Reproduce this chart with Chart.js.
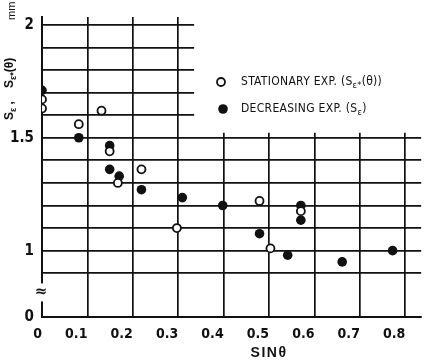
<!DOCTYPE html>
<html>
<head>
<meta charset="utf-8">
<script src="https://cdn.jsdelivr.net/npm/chart.js@4"></script>
<style>
  html, body { margin: 0; padding: 0; background: #fff; }
  #wrap { width: 427px; height: 364px; }
</style>
</head>
<body>
<div id="wrap"><canvas id="c" width="427" height="364"></canvas></div>
<script>
// Stationary experiments: S_e*(theta) against sin(theta)
const stationarySin = [0, 0, 0.081, 0.131, 0.149, 0.167, 0.219, 0.297, 0.479, 0.503, 0.570];
const stationarySe  = [1.67, 1.63, 1.56, 1.62, 1.44, 1.30, 1.36, 1.10, 1.22, 1.01, 1.175];

// Decreasing experiments: S_e against sin(theta)
const decreasingSin = [0, 0.081, 0.149, 0.149, 0.170, 0.219, 0.309, 0.398, 0.479, 0.541, 0.570, 0.570, 0.661, 0.772];
const decreasingSe  = [1.71, 1.50, 1.465, 1.36, 1.33, 1.27, 1.235, 1.20, 1.075, 0.98, 1.20, 1.135, 0.95, 1.00];

// Axis ticks
const xTickValues = [0, 0.1, 0.2, 0.3, 0.4, 0.5, 0.6, 0.7, 0.8];
const xTickLabels = ['0', '0.1', '0.2', '0.3', '0.4', '0.5', '0.6', '0.7', '0.8'];
const yTickValues = [0.9, 1.0, 1.1, 1.2, 1.3, 1.4, 1.5, 1.6, 1.7, 1.8, 1.9, 2.0];
const yTickLabels = [[1, '1'], [1.5, '1.5'], [2, '2']];

// The y axis is broken: its foot stands for 0
const yBreakFloor = 0.706;
const yBreakAt = 0.815;
const yFloorLabel = '0';

const seriesLabels = ['STATIONARY EXP. (S_{ε*}(θ))', 'DECREASING EXP. (S_{ε})'];
const yTitleParts = ['S_{ε} ,', 'S_{ε*}(θ)', 'mm'];
const xTitle = 'SINθ';

const INK = '#111';
const NARROW = "'Liberation Sans Narrow', 'DejaVu Sans Condensed', sans-serif";

function toPoints(xs, ys) { return xs.map((x, i) => ({ x: x, y: ys[i] })); }

// Draws text where _{...} marks a subscript run; returns the width drawn
function drawRich(ctx, text, x, y, size, weight, family) {
  const parts = text.split(/(_\{[^}]*\})/);
  let cx = x;
  for (const p of parts) {
    if (!p) continue;
    const sub = p.startsWith('_{');
    const t = sub ? p.slice(2, -1) : p;
    const s = sub ? Math.round(size * 0.72) : size;
    ctx.font = `${weight} ${s}px ${family}`;
    ctx.fillText(t, cx, y + (sub ? size * 0.28 : 0));
    cx += ctx.measureText(t).width;
  }
  return cx - x;
}

// Clears the empty upper-right panel and opens the gap in the broken y axis
const panelMask = {
  id: 'panelMask',
  beforeDatasetsDraw(chart) {
    const { ctx, chartArea, scales } = chart;
    const x0 = scales.x.getPixelForValue(0.335);
    const y15 = scales.y.getPixelForValue(1.5);
    ctx.save();
    ctx.fillStyle = '#fff';
    ctx.fillRect(x0, 0, chart.width - x0, y15 - 5);
    const yb = scales.y.getPixelForValue(yBreakAt);
    ctx.fillRect(chartArea.left - 4, yb - 9, 8, 18);
    ctx.restore();
  }
};

// Break symbol, axis titles and the in-panel key
const annotations = {
  id: 'annotations',
  afterDatasetsDraw(chart) {
    const { ctx, chartArea, scales } = chart;
    ctx.save();
    ctx.fillStyle = INK;
    ctx.textBaseline = 'middle';

    // break mark on the y axis
    ctx.textAlign = 'center';
    ctx.font = `bold 15px 'DejaVu Sans', sans-serif`;
    ctx.fillText('≈', chartArea.left - 1, scales.y.getPixelForValue(yBreakAt));

    // x axis title
    ctx.font = `bold 14px 'Liberation Sans', sans-serif`;
    ctx.letterSpacing = '1.5px';
    ctx.fillText(xTitle, scales.x.getPixelForValue(0.5), chart.height - 11);
    ctx.letterSpacing = '0px';

    // y axis title, reading upward
    ctx.textAlign = 'left';
    ctx.save();
    ctx.translate(10, chartArea.top + 103);
    ctx.rotate(-Math.PI / 2);
    drawRich(ctx, yTitleParts[0], 0, 0, 12, 'bold', "'Liberation Sans', sans-serif");
    drawRich(ctx, yTitleParts[1], 32, 0, 12, 'bold', "'Liberation Sans', sans-serif");
    drawRich(ctx, yTitleParts[2], 100, 2, 11, 'normal', "'Liberation Sans', sans-serif");
    ctx.restore();

    // key
    const kx = chartArea.left + 179;
    const ky = chartArea.top + 65;
    chart.data.datasets.forEach((ds, i) => {
      const y = ky + i * 27;
      const mx = kx + i * 2;
      ctx.beginPath();
      ctx.arc(mx, y, ds.pointRadius, 0, Math.PI * 2);
      ctx.fillStyle = ds.backgroundColor;
      ctx.fill();
      if (ds.borderWidth) {
        ctx.lineWidth = ds.borderWidth;
        ctx.strokeStyle = ds.borderColor;
        ctx.stroke();
      }
      ctx.fillStyle = INK;
      ctx.letterSpacing = '0.3px';
      drawRich(ctx, ds.label, kx + 20, y, 12, 'normal', NARROW);
      ctx.letterSpacing = '0px';
    });
    ctx.restore();
  }
};

new Chart(document.getElementById('c'), {
  type: 'scatter',
  data: {
    datasets: [
      {
        label: seriesLabels[0],
        data: toPoints(stationarySin, stationarySe),
        pointRadius: 4,
        pointHoverRadius: 4,
        backgroundColor: '#fff',
        borderColor: INK,
        borderWidth: 1.8
      },
      {
        label: seriesLabels[1],
        data: toPoints(decreasingSin, decreasingSe),
        pointRadius: 4.8,
        pointHoverRadius: 4.8,
        backgroundColor: INK,
        borderColor: INK,
        borderWidth: 0
      }
    ]
  },
  options: {
    responsive: false,
    devicePixelRatio: 1,
    animation: false,
    events: [],
    layout: { padding: { top: 12, right: 3, left: 0, bottom: 0 } },
    plugins: {
      legend: { display: false },
      tooltip: { enabled: false }
    },
    scales: {
      x: {
        type: 'linear',
        min: 0,
        max: 0.835,
        afterBuildTicks(scale) { scale.ticks = xTickValues.map(v => ({ value: v })); },
        afterFit(scale) { scale.height = 47; },
        ticks: {
          autoSkip: false,
          maxRotation: 0,
          padding: 9,
          align: 'end',
          color: INK,
          font: { family: NARROW, size: 14, weight: 'bold' },
          callback(value) {
            const i = xTickValues.findIndex(v => Math.abs(v - value) < 1e-6);
            return i >= 0 ? xTickLabels[i] : '';
          }
        },
        grid: { color: INK, lineWidth: 1.7, drawTicks: false },
        border: { color: INK, width: 2 }
      },
      y: {
        type: 'linear',
        min: yBreakFloor,
        max: 2.035,
        afterBuildTicks(scale) {
          scale.ticks = [yBreakFloor, ...yTickValues].map(v => ({ value: v }));
        },
        afterFit(scale) { scale.width = 42; },
        ticks: {
          autoSkip: false,
          padding: 8,
          color: INK,
          font: { family: NARROW, size: 15, weight: 'bold' },
          callback(value) {
            if (Math.abs(value - yBreakFloor) < 1e-6) return yFloorLabel;
            const hit = yTickLabels.find(t => Math.abs(t[0] - value) < 1e-6);
            return hit ? hit[1] : '';
          }
        },
        grid: { color: INK, lineWidth: 1.7, drawTicks: false },
        border: { color: INK, width: 2 }
      }
    }
  },
  plugins: [panelMask, annotations]
});
</script>
</body>
</html>
